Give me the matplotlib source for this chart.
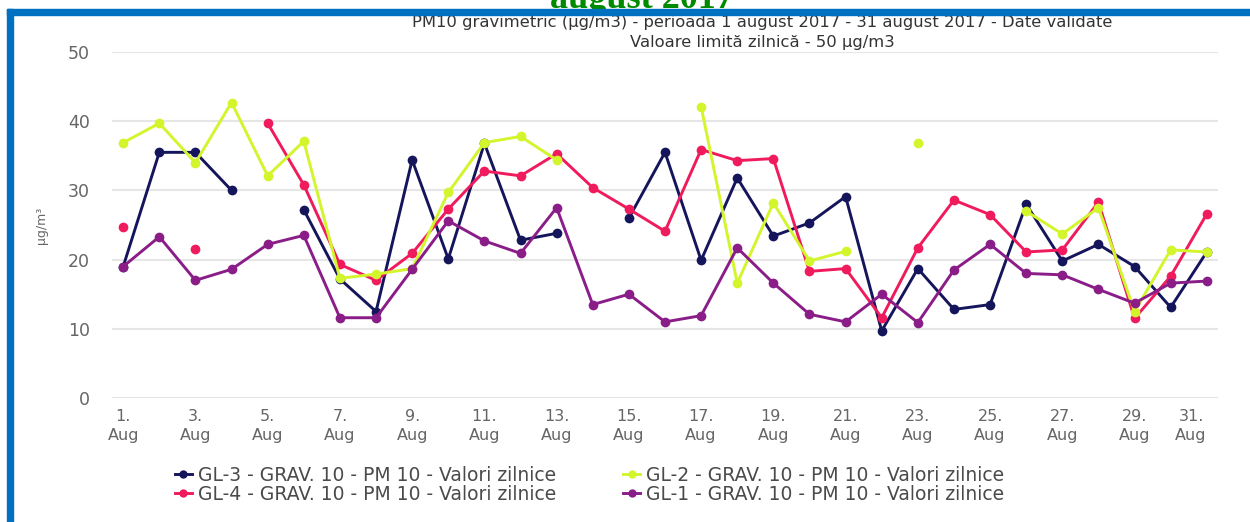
import numpy as np
import matplotlib
matplotlib.use('Agg')
import matplotlib.pyplot as plt
from matplotlib.patches import Rectangle

nan = np.nan

# days of August 2017
days = list(range(1, 32))
tick_days = list(range(1, 32, 2))
tick_labels = [f'{d}.\nAug' for d in tick_days]

# PM10 daily values (ug/m3), nan = no data
gl3 = [19.0, 35.5, 35.5, 30.0, nan, 27.2, 17.2, 12.5, 34.4, 20.1,
       36.8, 22.8, 23.8, nan, 26.0, 35.5, 19.9, 31.8, 23.4, 25.3,
       29.1, 9.7, 18.7, 12.8, 13.5, 28.0, 19.8, 22.2, 19.0, 13.1, 21.1]
gl2 = [36.9, 39.7, 34.0, 42.7, 32.1, 37.1, 17.3, 17.9, 18.7, 29.7,
       36.9, 37.8, 34.4, nan, nan, nan, 42.1, 16.6, 28.2, 19.8,
       21.2, nan, 36.9, nan, nan, 27.0, 23.7, 27.5, 12.5, 21.4, 21.1]
gl4 = [24.7, nan, 21.5, nan, 39.7, 30.8, 19.3, 17.0, 20.9, 27.3,
       32.8, 32.1, 35.3, 30.4, 27.3, 24.1, 35.9, 34.3, 34.6, 18.3,
       18.7, 11.6, 21.7, 28.6, 26.5, 21.1, 21.4, 28.3, 11.5, 17.6, 26.6]
gl1 = [19.0, 23.3, 17.0, 18.6, 22.2, 23.5, 11.6, 11.6, 18.6, 25.6,
       22.7, 20.9, 27.5, 13.5, 15.0, 11.0, 11.9, 21.7, 16.6, 12.1,
       11.0, 15.0, 10.9, 18.5, 22.2, 18.0, 17.8, 15.7, 13.7, 16.6, 16.9]

series = [
    ('GL-3 - GRAV. 10 - PM 10 - Valori zilnice', gl3, '#15155c'),
    ('GL-4 - GRAV. 10 - PM 10 - Valori zilnice', gl4, '#ef1b5d'),
    ('GL-2 - GRAV. 10 - PM 10 - Valori zilnice', gl2, '#d2f52c'),
    ('GL-1 - GRAV. 10 - PM 10 - Valori zilnice', gl1, '#8a1d88'),
]
draw_order = [2, 3, 1, 0]

plt.rcParams['font.family'] = ['DejaVu Sans']

W, H = 1250, 522
fig = plt.figure(figsize=(W / 100, H / 100), dpi=100)
ax = fig.add_axes([112 / W, 1 - 398 / H, (1218 - 112) / W, (398 - 52) / H])

lines = {}
for i in draw_order:
    name, vals, col = series[i]
    ln, = ax.plot(days, vals, color=col, lw=2.1, marker='o', ms=7,
                  markeredgewidth=0, label=name, zorder=3 + i, clip_on=False)
    lines[i] = ln

ax.set_xlim(0.69, 31.31)
ax.set_ylim(0, 50)
ax.set_yticks([0, 10, 20, 30, 40, 50])
ax.set_xticks(tick_days)
ax.set_xticklabels(tick_labels, linespacing=1.35)
ax.grid(axis='y', color='#e6e6e6', lw=1.5)
ax.set_axisbelow(True)
for s in ax.spines.values():
    s.set_visible(False)
ax.tick_params(axis='both', length=0, labelsize=11.5, labelcolor='#666666')
ax.tick_params(axis='y', pad=16, labelsize=12.5)
ax.tick_params(axis='x', pad=8)
last = ax.get_xticklabels()[-1]
last.set_horizontalalignment('right')
last.set_multialignment('center')
ax.set_ylabel('µg/m³', fontsize=9, color='#666666', labelpad=14)

fig.text(762 / W, 1 - 23 / H,
         'PM10 gravimetric (µg/m3) - perioada 1 august 2017 - 31 august 2017 - Date validate',
         ha='center', va='center', fontsize=11.8, color='#333333')
fig.text(762 / W, 1 - 42 / H, 'Valoare limită zilnică - 50 µg/m3',
         ha='center', va='center', fontsize=11.8, color='#333333')

# cropped heading above the frame
fig.text(642 / W, 1 - 8 / H, 'august 2017', ha='center', va='baseline',
         fontsize=26, fontweight='bold', family='Liberation Serif', color='#008a00')

# blue frame
fig.add_artist(Rectangle((7 / W, 0), 6 / W, 1 - 9 / H, transform=fig.transFigure,
                         color='#0070c0', zorder=10))
fig.add_artist(Rectangle((7 / W, 1 - 15 / H), 1 - 7 / W, 6 / H, transform=fig.transFigure,
                         color='#0070c0', zorder=10))

handles = [lines[i] for i in range(4)]
leg = fig.legend(handles, [series[i][0] for i in range(4)], ncol=2,
                 loc='upper left', bbox_to_anchor=(175 / W, 1 - 466 / H),
                 frameon=False, fontsize=13.5, labelcolor='#4a4a4a',
                 handlelength=0.9, handletextpad=0.3, columnspacing=3.6,
                 labelspacing=0.0, borderpad=0, borderaxespad=0)
for h in leg.legend_handles:
    h.set_markersize(6)

fig.savefig('out.png', dpi=100)
